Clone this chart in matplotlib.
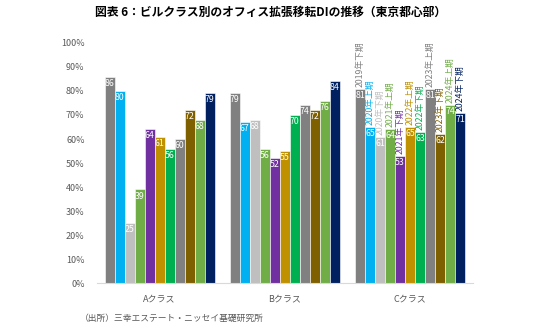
import numpy as np
import matplotlib.pyplot as plt

plt.rcParams['font.family'] = ['Noto Sans CJK JP', 'DejaVu Sans']

classes = ['Aクラス', 'Bクラス', 'Cクラス']
periods = ['2019年下期', '2020年上期', '2020年下期', '2021年上期', '2021年下期', '2022年上期',
           '2022年下期', '2023年上期', '2023年下期', '2024年上期', '2024年下期']
a_class = [86, 80, 25, 39, 64, 61, 56, 60, 72, 68, 79]
b_class = [79, 67, 68, 56, 52, 55, 70, 74, 72, 76, 84]
c_class = [81, 65, 61, 64, 53, 65, 63, 81, 62, 74, 71]
colors = ['#808080', '#00B0F0', '#BFBFBF', '#70AD47', '#7030A0', '#BF9000',
          '#00B050', '#808080', '#7F6000', '#70AD47', '#002060']

values = np.array([a_class, b_class, c_class])  # rows: class, cols: period

fig = plt.figure(figsize=(5.36, 3.28), dpi=100)
ax = fig.add_axes([0.181, 0.137, 0.701, 0.732])

x = np.arange(len(classes))
w = 0.08
for i, (name, col) in enumerate(zip(periods, colors)):
    pos = x + (i - 5) * w
    vals = values[:, i]
    ax.bar(pos, vals / 100, width=w, color=col, edgecolor='white', linewidth=0.4)
    for px, v in zip(pos, vals):
        ax.annotate(str(v), (px, v / 100), xytext=(0, -1.5), textcoords='offset points',
                    ha='center', va='top', fontsize=6.3, color='white')
    # period name above the C class bars
    ax.annotate(name, (pos[2], vals[2] / 100), xytext=(0, 1.5), textcoords='offset points',
                ha='center', va='bottom', rotation=90, fontsize=6.3, color=col,
                annotation_clip=False)

ax.set_xlim(-0.5, 2.5)
ax.set_ylim(0, 1)
ax.set_yticks(np.arange(0, 1.01, 0.1))
ax.set_yticklabels([f'{int(t)}%' for t in np.arange(0, 101, 10)])
ax.set_xticks(x)
ax.set_xticklabels(classes)
ax.tick_params(axis='both', length=0, labelsize=6.5, colors='#595959')
ax.tick_params(axis='x', pad=8)
ax.tick_params(axis='y', pad=9)
for s in ['top', 'right', 'left']:
    ax.spines[s].set_visible(False)
ax.spines['bottom'].set_color('#D9D9D9')
ax.spines['bottom'].set_linewidth(0.8)

fig.text(0.504, 0.962, '図表 6：ビルクラス別のオフィス拡張移転DIの推移（東京都心部）',
         ha='center', va='center', fontsize=8.5, fontweight='bold', color='black')
fig.text(0.149, 0.03, '（出所）三幸エステート・ニッセイ基礎研究所',
         ha='left', va='center', fontsize=6.3, color='#595959')

fig.savefig('out.png', dpi=100)
